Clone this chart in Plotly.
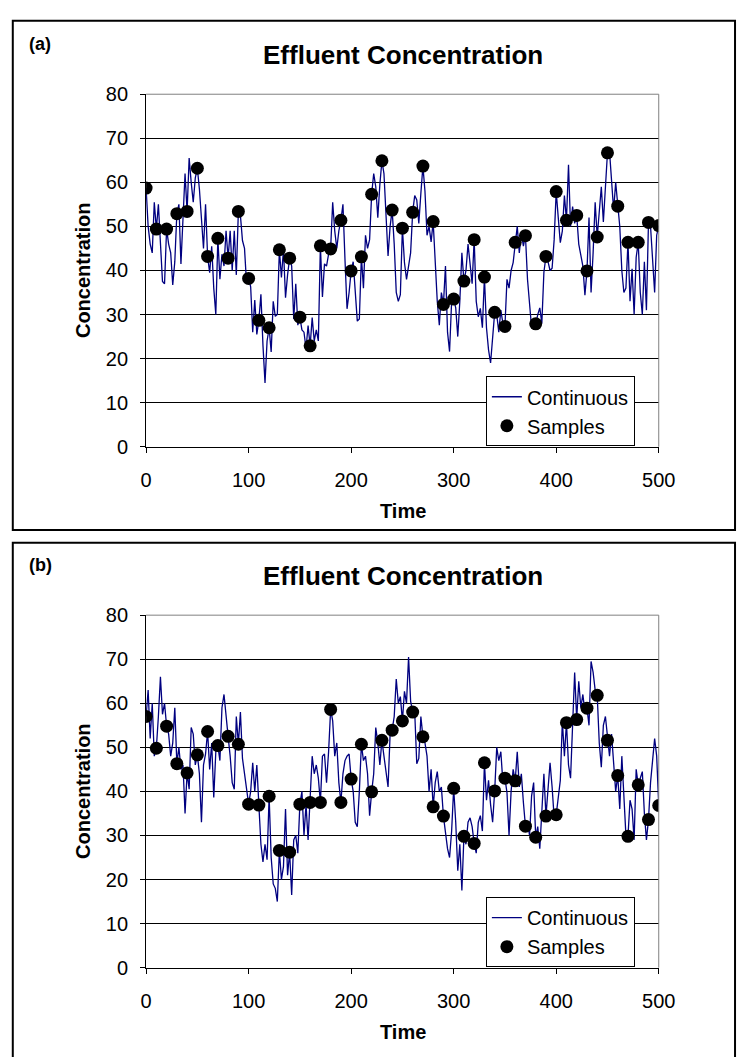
import plotly.graph_objects as go

W, H = 753, 1057
FONT = "Liberation Sans, Arial, sans-serif"

# ---------------- data ----------------
time_cont = list(range(0, 501, 2))
time_samp = list(range(0, 501, 10))

cont_a = [
    58.7, 50, 46, 44, 55.5,
    49.4, 55, 47.5, 37.5, 37,
    49.4, 46, 44, 36.7, 42,
    52.9, 55, 41.5, 52, 62,
    53.4, 65.5, 60, 55.5, 61,
    63.2, 58.5, 51, 45, 55,
    43.2, 39.5, 45.5, 36, 30,
    47.3, 38, 43.7, 41, 49,
    42.8, 49, 40, 49, 39,
    53.4, 52.5, 46.8, 45, 37,
    38.2, 36.3, 26, 33.3, 25.5,
    28.7, 34.6, 23, 14.5, 24,
    27.0, 21.5, 33, 29.6, 30,
    44.7, 38.4, 44.8, 33.8, 39,
    42.8, 41, 29, 37, 27.6,
    29.4, 26.5, 26, 22.3, 27.5,
    22.9, 29.3, 24, 26.5, 24,
    45.6, 34, 41.5, 41, 43.7,
    44.9, 55.5, 49, 45, 49,
    51.4, 55, 42.4, 31.3, 35,
    39.9, 42, 34, 28.5, 29,
    43.1, 36, 48, 45, 47,
    57.3, 62, 59, 52, 59.5,
    64.9, 62, 52, 43.3, 50,
    53.7, 46, 35, 33, 34.5,
    49.6, 41.8, 38, 41.5, 44,
    53.2, 57, 56, 50.7, 57.5,
    63.7, 58, 48, 50, 46.5,
    51.1, 42, 33, 27.6, 35,
    32.3, 41, 26, 21.6, 33,
    33.5, 31.5, 25, 33, 44,
    37.6, 40, 46, 42, 37,
    47.0, 33, 29.5, 31.4, 27,
    38.5, 27, 22, 19, 26,
    30.5, 30, 26, 31, 28,
    27.3, 38, 36, 40, 41.8,
    46.4, 50, 44, 48.5, 45.5,
    47.9, 38, 33, 27, 29,
    27.9, 30, 31.5, 28, 39.6,
    43.2, 42, 40, 40.5, 47,
    57.9, 52, 46.3, 49, 57,
    51.4, 64, 50, 54.5, 50.7,
    52.5, 46, 43, 41, 34.4,
    39.9, 52, 35, 44, 55.5,
    47.6, 53, 59, 51, 60,
    66.7, 67, 59, 53.7, 60,
    54.6, 50, 40, 35, 36,
    46.4, 33, 40.4, 30, 43,
    46.4, 35, 30, 42, 31,
    50.9, 50, 42, 35, 48,
    50.2,
]

samp_a = [58.7, 49.4, 49.4, 52.9, 53.4, 63.2, 43.2, 47.3, 42.8, 53.4,
          38.2, 28.7, 27.0, 44.7, 42.8, 29.4, 22.9, 45.6, 44.9, 51.4,
          39.9, 43.1, 57.3, 64.9, 53.7, 49.6, 53.2, 63.7, 51.1, 32.3,
          33.5, 37.6, 47.0, 38.5, 30.5, 27.3, 46.4, 47.9, 27.9, 43.2,
          57.9, 51.4, 52.5, 39.9, 47.6, 66.7, 54.6, 46.4, 46.4, 50.9,
          50.2]

cont_b = [
    57.0, 63, 52, 60, 48,
    49.8, 57, 66, 57.5, 60,
    54.8, 53, 48, 51, 59,
    46.3, 50, 45, 46, 35,
    44.2, 40.5, 54.5, 53, 46,
    48.3, 44, 33, 46, 48.5,
    53.6, 45, 51, 38.6, 49,
    50.4, 47, 59, 62, 56.5,
    52.5, 48, 42, 40.5, 57,
    50.7, 58, 47.5, 44, 40,
    37.1, 40, 46.5, 40, 46,
    36.9, 28, 24, 28, 24.5,
    38.9, 25, 19, 18, 15,
    26.6, 20, 23, 36, 21,
    26.2, 16.5, 29, 30, 26,
    37.1, 40, 30, 37, 29,
    37.5, 48, 44, 46, 43,
    37.5, 48, 48.5, 42, 49,
    58.6, 56, 48, 51, 42,
    37.5, 44, 47, 48, 48.5,
    42.8, 40, 33, 32, 40,
    50.7, 47, 48, 44, 34.5,
    39.9, 44, 54.5, 51, 46,
    51.6, 48, 45, 41, 53,
    53.9, 57, 65.5, 60, 61.5,
    56.0, 62.7, 60, 70.5, 60.5,
    58.0, 58, 46.3, 47.5, 57,
    52.4, 51, 48, 40, 45,
    36.5, 42, 44.5, 40, 41,
    34.4, 31, 27, 25, 31,
    40.7, 33, 22, 28, 17.5,
    29.8, 28, 33, 34, 32,
    28.2, 26, 33, 34.5, 31,
    46.5, 38, 42.5, 37, 33,
    40.1, 50, 47, 49, 42,
    43.0, 39.7, 30, 40, 45,
    42.4, 49, 41, 44, 37.5,
    32.1, 33, 30, 39, 42,
    29.6, 32, 27, 36, 44,
    34.4, 40, 46.5, 41, 34,
    34.7, 38, 42.5, 56, 48,
    55.6, 46, 43, 55, 67,
    56.3, 65, 59, 62, 58,
    58.9, 55, 69.5, 67, 63,
    61.8, 51, 45.5, 55, 57,
    51.6, 48, 53, 47, 40,
    43.6, 36, 48, 40, 30,
    29.8, 38, 36, 29, 45,
    41.5, 43, 44.5, 35, 29,
    33.6, 42, 47, 52, 48,
    36.8,
]

samp_b = [57.0, 49.8, 54.8, 46.3, 44.2, 48.3, 53.6, 50.4, 52.5, 50.7,
          37.1, 36.9, 38.9, 26.6, 26.2, 37.1, 37.5, 37.5, 58.6, 37.5,
          42.8, 50.7, 39.9, 51.6, 53.9, 56.0, 58.0, 52.4, 36.5, 34.4,
          40.7, 29.8, 28.2, 46.5, 40.1, 43.0, 42.4, 32.1, 29.6, 34.4,
          34.7, 55.6, 56.3, 58.9, 61.8, 51.6, 43.6, 29.8, 41.5, 33.6,
          36.8]

x_ticks = [0, 100, 200, 300, 400, 500]
y_ticks = [0, 10, 20, 30, 40, 50, 60, 70, 80]
title_text = "Effluent Concentration"
panel_labels = ["(a)", "(b)"]


def px(x):
    return x / W


def py(y):
    return 1 - y / H


LINE_COLOR = "#000080"

fig = go.Figure()

panels = [
    dict(cont=cont_a, samp=samp_a, xa="x", ya="y", legend="legend", off=0),
    dict(cont=cont_b, samp=samp_b, xa="x2", ya="y2", legend="legend2", off=532),
]

for p in panels:
    fig.add_trace(go.Scatter(
        x=time_cont, y=p["cont"], mode="lines", name="Continuous",
        line=dict(color=LINE_COLOR, width=1.3),
        xaxis=p["xa"], yaxis=p["ya"], legend=p["legend"]))
    fig.add_trace(go.Scatter(
        x=time_samp, y=p["samp"], mode="markers", name="Samples",
        marker=dict(color="black", size=13, symbol="circle"),
        xaxis=p["xa"], yaxis=p["ya"], legend=p["legend"]))

x_dom = [px(144.5), px(673.3)]

axis_common_x = dict(
    range=[0, 500], tickvals=x_ticks, ticks="outside", ticklen=5,
    tickcolor="black", showline=True, linecolor="black", linewidth=1,
    showgrid=False, zeroline=False, tickfont=dict(size=20, color="black"),
    ticklabelstandoff=10, fixedrange=True,
)
axis_common_y = dict(
    range=[0, 80], tickvals=y_ticks, ticks="outside", ticklen=5,
    tickcolor="black", showline=True, linecolor="black", linewidth=1,
    showgrid=True, gridcolor="#000000", gridwidth=1, zeroline=False,
    tickfont=dict(size=20, color="black"), ticklabelstandoff=8,
    fixedrange=True,
)

layout = dict(
    width=W, height=H,
    margin=dict(l=0, r=0, t=0, b=0),
    paper_bgcolor="white", plot_bgcolor="white",
    font=dict(family=FONT, color="black"),
    hovermode=False,
    xaxis=dict(domain=x_dom, anchor="y", **axis_common_x),
    yaxis=dict(domain=[py(445), py(85)], anchor="x", **axis_common_y),
    xaxis2=dict(domain=x_dom, anchor="y2", **axis_common_x),
    yaxis2=dict(domain=[py(977), py(617)], anchor="x2", **axis_common_y),
)

shapes = []
annotations = []
for i, p in enumerate(panels):
    off = p["off"]
    leg = dict(
        x=px(495), y=py(373 + off), xanchor="left", yanchor="top",
        bgcolor="white", bordercolor="black", borderwidth=1,
        font=dict(size=20, family=FONT, color="black"),
        itemsizing="trace", tracegroupgap=0,
    )
    layout["legend" if i == 0 else "legend2"] = leg

    xr = "x domain" if i == 0 else "x2 domain"
    yr = "y domain" if i == 0 else "y2 domain"
    shapes.append(dict(type="line", xref=xr, yref=yr, x0=0, x1=1, y0=1, y1=1,
                       line=dict(color="#808080", width=1), layer="above"))
    shapes.append(dict(type="line", xref=xr, yref=yr, x0=1, x1=1, y0=0, y1=1,
                       line=dict(color="#808080", width=1), layer="above"))
    top = 10 if i == 0 else 543
    bot = 530 if i == 0 else 1080
    shapes.append(dict(type="rect", xref="paper", yref="paper",
                       x0=px(7), x1=px(752), y0=py(bot), y1=py(top),
                       line=dict(color="black", width=2), layer="below"))

    annotations.append(dict(
        text="<b>" + title_text + "</b>", x=px(409), y=py(45 + off),
        xref="paper", yref="paper", xanchor="center", yanchor="middle",
        showarrow=False, font=dict(size=26, family=FONT, color="black")))
    annotations.append(dict(
        text="<b>" + panel_labels[i] + "</b>", x=px(22), y=py(34 + off),
        xref="paper", yref="paper", xanchor="left", yanchor="middle",
        showarrow=False, font=dict(size=18, family=FONT, color="black")))
    annotations.append(dict(
        text="<b>Concentration</b>", x=px(80), y=py(265 + off),
        xref="paper", yref="paper", xanchor="center", yanchor="middle",
        textangle=-90, showarrow=False,
        font=dict(size=20, family=FONT, color="black")))
    annotations.append(dict(
        text="<b>Time</b>", x=px(409), y=py(511 + off),
        xref="paper", yref="paper", xanchor="center", yanchor="middle",
        showarrow=False, font=dict(size=20, family=FONT, color="black")))

layout["shapes"] = shapes
layout["annotations"] = annotations
fig.update_layout(**layout)

fig.write_html(
    "out.html",
    config={"displayModeBar": False, "staticPlot": True},
    post_script="document.body.style.margin='0';"
                "document.body.style.padding='0';"
                "document.body.style.overflow='hidden';"
                "document.documentElement.style.overflow='hidden';",
)
